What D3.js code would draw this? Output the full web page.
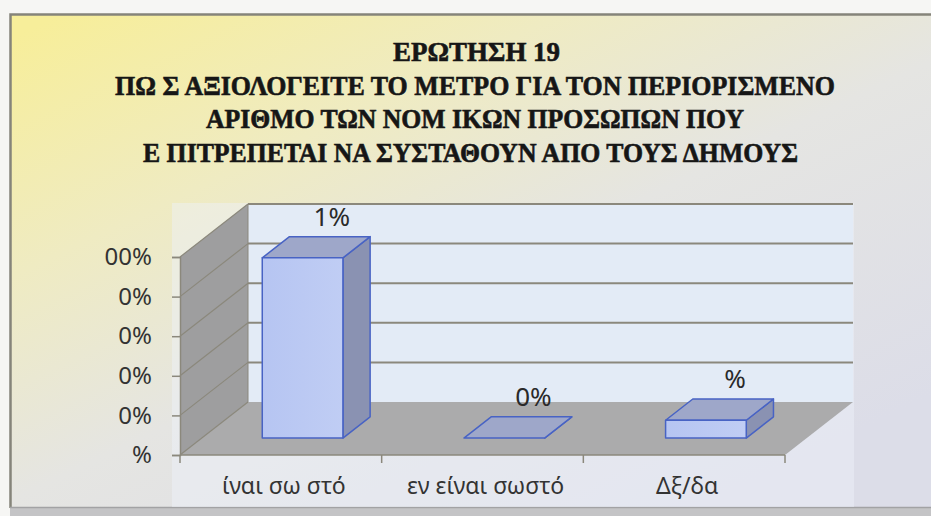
<!DOCTYPE html>
<html>
<head>
<meta charset="utf-8">
<script src="https://cdn.jsdelivr.net/npm/d3@7"></script>
<style>
  html, body { margin: 0; padding: 0; background: #f6f6f4; }
  svg { display: block; }
</style>
</head>
<body>
<svg></svg>
<script>
// chart data
const titleLines = [
    "ΕΡΩΤΗΣΗ 19",
    "ΠΩ Σ ΑΞΙΟΛΟΓΕΙΤΕ ΤΟ ΜΕΤΡΟ ΓΙΑ ΤΟΝ ΠΕΡΙΟΡΙΣΜΕΝΟ",
    "ΑΡΙΘΜΟ ΤΩΝ ΝΟΜ ΙΚΩΝ ΠΡΟΣΩΠΩΝ ΠΟΥ",
    "Ε ΠΙΤΡΕΠΕΤΑΙ ΝΑ ΣΥΣΤΑΘΟΥΝ ΑΠΟ ΤΟΥΣ ΔΗΜΟΥΣ"
]
const categories = ["ίναι σω στό", "εν είναι σωστό", "Δξ/δα"]
const values = [0.91, 0, 0.09]
const valueLabels = ["1%", "0%", "%"]
const tickValues = [0, 0.2, 0.4, 0.6, 0.8, 1]
const tickLabels = ["%", "0%", "0%", "0%", "0%", "00%"]

let w = 931,
    h = 516
let svg = d3.select("svg").attr("width", w).attr("height", h)

// 3d look: oblique depth vector
const depth = { dx: 68, dy: -53 }
const barFront = 0.32, barBack = 0.72

var x = d3.scaleBand().domain(categories).range([180, 785]).padding(0)
var y = d3.scaleLinear().domain([0, 1]).range([455, 257])

var defs = svg.append("defs")
var bg = defs.append("linearGradient").attr("id", "bg")
    .attr("x1", 0).attr("y1", 0.05).attr("x2", 0.8).attr("y2", 0.95)
bg.append("stop").attr("offset", 0).attr("stop-color", "#f7ee9a")
bg.append("stop").attr("offset", 0.3).attr("stop-color", "#efebc2")
bg.append("stop").attr("offset", 0.58).attr("stop-color", "#e5e5e2")
bg.append("stop").attr("offset", 1).attr("stop-color", "#dcdde8")

var front = defs.append("linearGradient").attr("id", "front")
    .attr("x1", 0).attr("y1", 0).attr("x2", 1).attr("y2", 0)
front.append("stop").attr("offset", 0).attr("stop-color", "#b6c5f2")
front.append("stop").attr("offset", 1).attr("stop-color", "#c0cdf4")

// frame
svg.append("rect").attr("x", 10).attr("y", 14).attr("width", w - 10).attr("height", 494)
    .attr("fill", "url(#bg)")
svg.append("path").attr("d", "M10.5,508V14.5H931")
    .attr("fill", "none").attr("stroke", "#85847a").attr("stroke-width", 2.5)
svg.append("rect").attr("x", 10).attr("y", 507).attr("width", w - 10).attr("height", 9)
    .attr("fill", "#c4c4c6")
svg.append("line").attr("x1", 10).attr("x2", w).attr("y1", 507.5).attr("y2", 507.5)
    .attr("stroke", "#a2a2a4").attr("stroke-width", 1.5)

// title
var titleX = [393, 115, 206, 143], titleW = [167, 720, 538, 655]
svg.append("g").selectAll("text")
    .data(titleLines)
    .enter().append("text")
    .attr("x", (d, i) => titleX[i])
    .attr("y", (d, i) => 61 + i * 33.7)
    .attr("textLength", (d, i) => titleW[i])
    .attr("lengthAdjust", "spacingAndGlyphs")
    .attr("font-family", "Liberation Serif, serif")
    .attr("font-weight", "bold")
    .attr("font-size", 27)
    .attr("fill", "#161616")
    .attr("stroke", "#161616")
    .attr("stroke-width", 0.6)
    .text(d => d)

// plot area
svg.append("rect").attr("x", 172).attr("y", 203).attr("width", 682).attr("height", 304)
    .attr("fill", "#eef2fa").attr("opacity", 0.45)

let x0 = x.range()[0], x1 = x.range()[1]
let yTop = y(1), yBase = y(0)

// back wall
svg.append("rect")
    .attr("x", x0 + depth.dx).attr("y", yTop + depth.dy)
    .attr("width", x1 - x0).attr("height", yBase - yTop)
    .attr("fill", "#e3ebf6")

// left wall
svg.append("polygon")
    .attr("points", [[x0, yTop], [x0 + depth.dx, yTop + depth.dy], [x0 + depth.dx, yBase + depth.dy], [x0, yBase]].join(" "))
    .attr("fill", "#9e9e9f")

// floor
svg.append("polygon")
    .attr("points", [[x0, yBase], [x0 + depth.dx, yBase + depth.dy], [x1 + depth.dx, yBase + depth.dy], [x1, yBase]].join(" "))
    .attr("fill", "#ababac")

// gridlines on back wall and side wall
var grid = svg.append("g").attr("stroke", "#8b887c").attr("fill", "none")
grid.selectAll(".back")
    .data(tickValues.slice(1))
    .enter().append("line")
    .attr("x1", x0 + depth.dx).attr("x2", x1 + depth.dx)
    .attr("y1", d => y(d) + depth.dy).attr("y2", d => y(d) + depth.dy)
    .attr("stroke-width", 2)
grid.selectAll(".side")
    .data(tickValues)
    .enter().append("line")
    .attr("x1", x0).attr("x2", x0 + depth.dx)
    .attr("y1", d => y(d)).attr("y2", d => y(d) + depth.dy)
    .attr("stroke-width", 1.2)
grid.append("line")
    .attr("x1", x0 + depth.dx).attr("x2", x0 + depth.dx)
    .attr("y1", yTop + depth.dy).attr("y2", yBase + depth.dy)
    .attr("stroke-width", 1)

// y axis
var yAxis = d3.axisLeft(y)
    .tickValues(tickValues)
    .tickFormat((d, i) => tickLabels[i])
    .tickSize(8)
    .tickPadding(20)
var gy = svg.append("g").attr("transform", "translate(" + x0 + ",0)").call(yAxis)
gy.select(".domain").attr("stroke", "#8b887c").attr("stroke-width", 1.5)
gy.selectAll(".tick line").attr("stroke", "#8b887c").attr("stroke-width", 1.5)
gy.selectAll(".tick text")
    .attr("font-family", "Noto Sans, sans-serif")
    .attr("font-size", 24)
    .attr("fill", "#333")

// x axis along the floor front edge
var gx = svg.append("g").attr("stroke", "#8b887c").attr("stroke-width", 1.5)
gx.append("line").attr("x1", x0).attr("x2", x1).attr("y1", yBase).attr("y2", yBase)
gx.selectAll(".tick")
    .data([x0].concat(categories.map(c => x(c) + x.bandwidth())))
    .enter().append("line")
    .attr("x1", d => d).attr("x2", d => d)
    .attr("y1", yBase).attr("y2", yBase + 8)

svg.append("g").selectAll("text")
    .data(categories)
    .enter().append("text")
    .attr("x", d => x(d) + x.bandwidth() / 2 + 3)
    .attr("y", 494)
    .attr("text-anchor", "middle")
    .attr("font-family", "Noto Sans, sans-serif")
    .attr("font-size", 23)
    .attr("fill", "#333")
    .text(d => d)

// bars
let bw = x.bandwidth() * 0.4
let fdx = depth.dx * barFront, fdy = depth.dy * barFront
let ddx = depth.dx * (barBack - barFront), ddy = depth.dy * (barBack - barFront)

var bars = svg.append("g").selectAll("g")
    .data(values)
    .enter().append("g")
    .attr("stroke", "#4863c4")
    .attr("stroke-width", 1.5)
    .attr("stroke-linejoin", "round")

function corners(d, i) {
    let left = x(categories[i]) + (x.bandwidth() - bw) / 2 + fdx
    let right = left + bw
    let top = y(d) + fdy
    let bottom = yBase + fdy
    return { left, right, top, bottom }
}

bars.append("polygon")
    .attr("points", (d, i) => {
        let c = corners(d, i)
        return [[c.right, c.top], [c.right + ddx, c.top + ddy], [c.right + ddx, c.bottom + ddy], [c.right, c.bottom]].join(" ")
    })
    .attr("fill", "#8a92b2")
bars.append("polygon")
    .attr("points", (d, i) => {
        let c = corners(d, i)
        return [[c.left, c.top], [c.left + ddx, c.top + ddy], [c.right + ddx, c.top + ddy], [c.right, c.top]].join(" ")
    })
    .attr("fill", "#9ea7c9")
bars.append("rect")
    .attr("x", (d, i) => corners(d, i).left)
    .attr("y", (d, i) => corners(d, i).top)
    .attr("width", bw)
    .attr("height", (d, i) => corners(d, i).bottom - corners(d, i).top)
    .attr("fill", "url(#front)")

// data labels
svg.append("g").selectAll("text")
    .data(values)
    .enter().append("text")
    .attr("x", (d, i) => {
        let c = corners(d, i)
        return (c.left + c.right) / 2 + ddx + 2
    })
    .attr("y", (d, i) => corners(d, i).top + ddy - 11)
    .attr("text-anchor", "middle")
    .attr("font-family", "Noto Sans, sans-serif")
    .attr("font-size", 26)
    .attr("fill", "#2a2a2a")
    .text((d, i) => valueLabels[i])
</script>
</body>
</html>
